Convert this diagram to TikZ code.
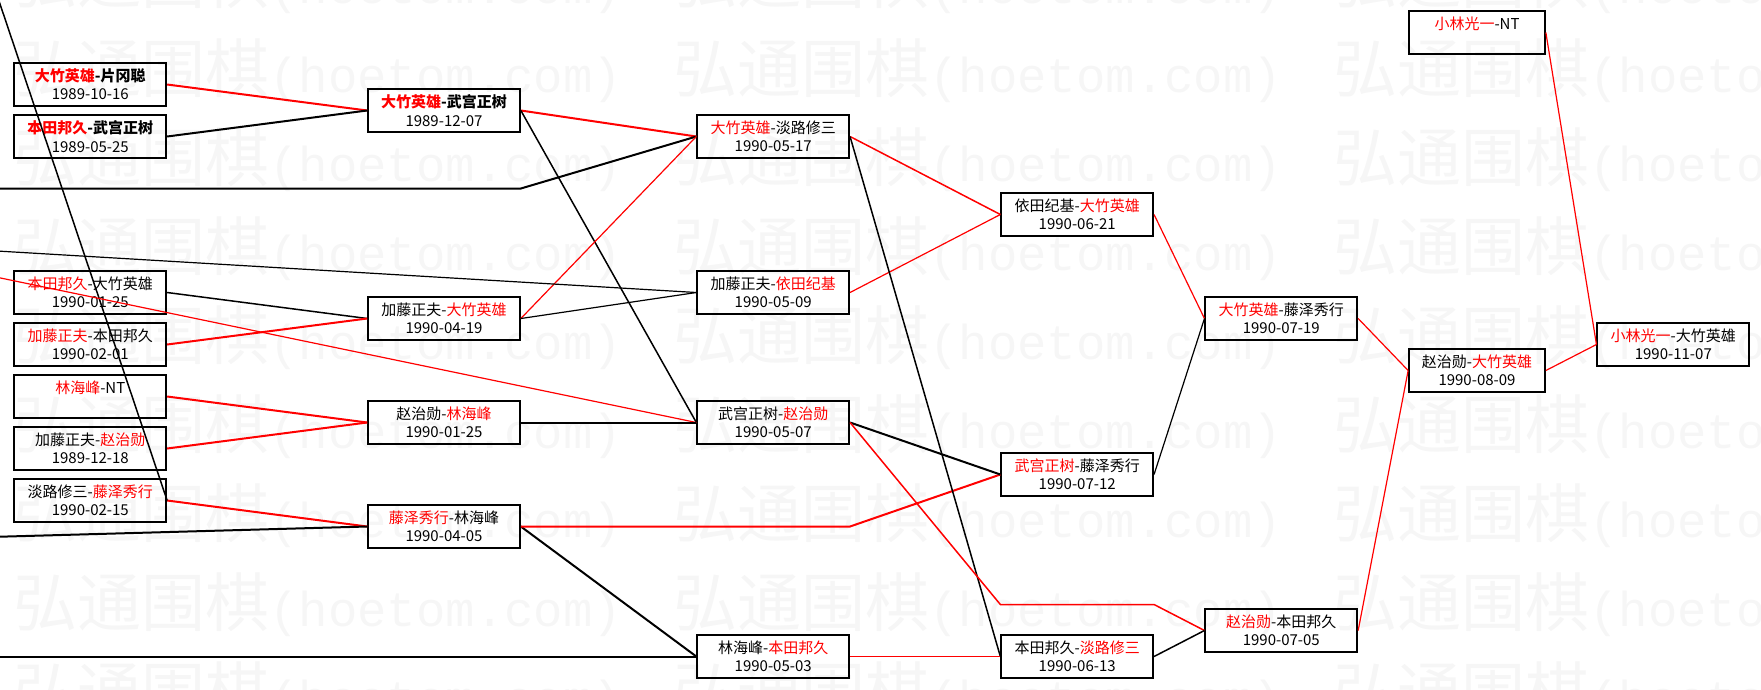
\documentclass[tikz,border=0pt]{standalone}
\usepackage{fontspec}
\setmainfont{Noto Sans CJK SC}
\newfontfamily\wmlat{Liberation Mono}
\usepackage{xcolor}
\usepackage{tikz}
\usetikzlibrary{calc}

\newcommand{\winner}[1]{\textcolor{red}{#1}}

\begin{document}
\begin{tikzpicture}[
    x=1pt, y=-1pt,
    game/.style={draw,line width=1.7pt,minimum width=152pt,minimum height=43.5pt,inner sep=0pt,align=center,font=\fontsize{15}{18.3}\selectfont},
    narrow/.style={minimum width=136pt},
    win/.style={draw=red,line width=1.2pt},
    loss/.style={draw=black,line width=1.2pt},
    heavy/.style={line width=2pt},
    wm/.style={anchor=base west,inner sep=0pt,text=black!3.5}
  ]
    \path[use as bounding box] (0,0) rectangle (1761,689);
    \clip (0,0) rectangle (1761,689);

    % watermark
    \foreach \wr in {0,...,8}
      \foreach \wc in {0,1,2}
        \node[wm] (wm\wr\wc) at (13+660*\wc,3+89*\wr)
          {{\fontsize{64}{64}\selectfont 弘通围棋}{\wmlat\fontsize{49}{49}\selectfont (hoetom.com)}};

    % round 1
    \node[game] (a1) at (90.3,84.5) {\textbf{\winner{大竹英雄}-片冈聪}\\1989-10-16};
    \node[game] (a2) at (90.3,136.5) {\textbf{\winner{本田邦久}-武宫正树}\\1989-05-25};
    \node[game] (a3) at (90.3,292.5) {\winner{本田邦久}-大竹英雄\\1990-01-25};
    \node[game] (a4) at (90.3,344.5) {\winner{加藤正夫}-本田邦久\\1990-02-01};
    \node[game] (a5) at (90.3,396.5) {\winner{林海峰}-NT\\\phantom{1990-01-01}};
    \node[game] (a6) at (90.3,448.5) {加藤正夫-\winner{赵治勋}\\1989-12-18};
    \node[game] (a7) at (90.3,500.5) {淡路修三-\winner{藤泽秀行}\\1990-02-15};

    % round 2
    \node[game] (b1) at (444,110.5) {\textbf{\winner{大竹英雄}-武宫正树}\\1989-12-07};
    \node[game] (b2) at (444,318.5) {加藤正夫-\winner{大竹英雄}\\1990-04-19};
    \node[game] (b3) at (444,422.5) {赵治勋-\winner{林海峰}\\1990-01-25};
    \node[game] (b4) at (444,526.5) {\winner{藤泽秀行}-林海峰\\1990-04-05};

    % round 3
    \node[game] (c1) at (773.2,136.5) {\winner{大竹英雄}-淡路修三\\1990-05-17};
    \node[game] (c2) at (773.2,292.5) {加藤正夫-\winner{依田纪基}\\1990-05-09};
    \node[game] (c3) at (773.2,422.5) {武宫正树-\winner{赵治勋}\\1990-05-07};
    \node[game] (c4) at (773.2,656.5) {林海峰-\winner{本田邦久}\\1990-05-03};

    % round 4
    \node[game] (d1) at (1077.2,214.5) {依田纪基-\winner{大竹英雄}\\1990-06-21};
    \node[game] (d2) at (1077.2,474.5) {\winner{武宫正树}-藤泽秀行\\1990-07-12};
    \node[game] (d3) at (1077.2,656.5) {本田邦久-\winner{淡路修三}\\1990-06-13};

    % round 5 and final
    \node[game] (e1) at (1281.3,318.5) {\winner{大竹英雄}-藤泽秀行\\1990-07-19};
    \node[game] (e2) at (1281.3,630.5) {\winner{赵治勋}-本田邦久\\1990-07-05};
    \node[game,narrow] (f0) at (1477,32.5) {\winner{小林光一}-NT\\\phantom{1990-01-01}};
    \node[game,narrow] (f1) at (1477,370.5) {赵治勋-\winner{大竹英雄}\\1990-08-09};
    \node[game] (g1) at (1673.3,344.5) {\winner{小林光一}-大竹英雄\\1990-11-07};

    % lines coming in from the left
    \coordinate (far) at (-35,-100);
    \coordinate (in6) at (-180,188.5);
    \coordinate (in8) at (-180,240.5);
    \coordinate (in20) at (-180,541.7);
    \coordinate (in24) at (-180,656.5);
    \coordinate (r22) at (0,604.5);

    \draw[win,heavy] (a1.east) -- (b1.west);
    \draw[loss,heavy] (a2.east) -- (b1.west);
    \draw[loss,line width=1.5pt] (a3.east) -- (b2.west);
    \draw[win,heavy] (a4.east) -- (b2.west);
    \draw[win,heavy] (a5.east) -- (b3.west);
    \draw[win,heavy] (a6.east) -- (b3.west);
    \draw[win,heavy] (a7.east) -- (b4.west);
    \draw[loss,heavy] (in20) -- (b4.west);
    \draw[loss,line width=1.5pt] (far) -- (a7.east);

    \draw[win,heavy] (b1.east) -- (c1.west);
    \draw[loss,line width=1.5pt] (b1.east) -- (c3.west);
    \draw[loss,heavy] (in6) -- (in6 -| b1.east) -- (c1.west);
    \draw[win] (b2.east) -- (c1.west);
    \draw[loss] (b2.east) -- (c2.west);
    \draw[loss] (in8) -- (c2.west);
    \draw[win] (in8) -- (c3.west);
    \draw[loss,heavy] (b3.east) -- (c3.west);
    \draw[loss,heavy] (b4.east) -- (c4.west);
    \draw[loss,heavy] (in24) -- (c4.west);
    \draw[win,heavy] (b4.east) -- (b4.east -| c4.east) -- (d2.west);

    \draw[win,line width=1.5pt] (c1.east) -- (d1.west);
    \draw[win] (c2.east) -- (d1.west);
    \draw[loss,line width=1.5pt] (c1.east) -- (d3.west);
    \draw[loss,heavy] (c3.east) -- (d2.west);
    \draw[win,line width=1.5pt] (c3.east) -- (d3.west |- r22) -- (d3.east |- r22) -- (e2.west);
    \draw[win,line width=1.5pt] (c4.east) -- (d3.west);

    \draw[win] (d1.east) -- (e1.west);
    \draw[loss] (d2.east) -- (e1.west);
    \draw[loss,line width=1.5pt] (d3.east) -- (e2.west);
    \draw[win] (e1.east) -- (f1.west);
    \draw[win] (e2.east) -- (f1.west);
    \draw[win] (f1.east) -- (g1.west);
    \draw[win] (f0.east) -- (g1.west);
\end{tikzpicture}
\end{document}
